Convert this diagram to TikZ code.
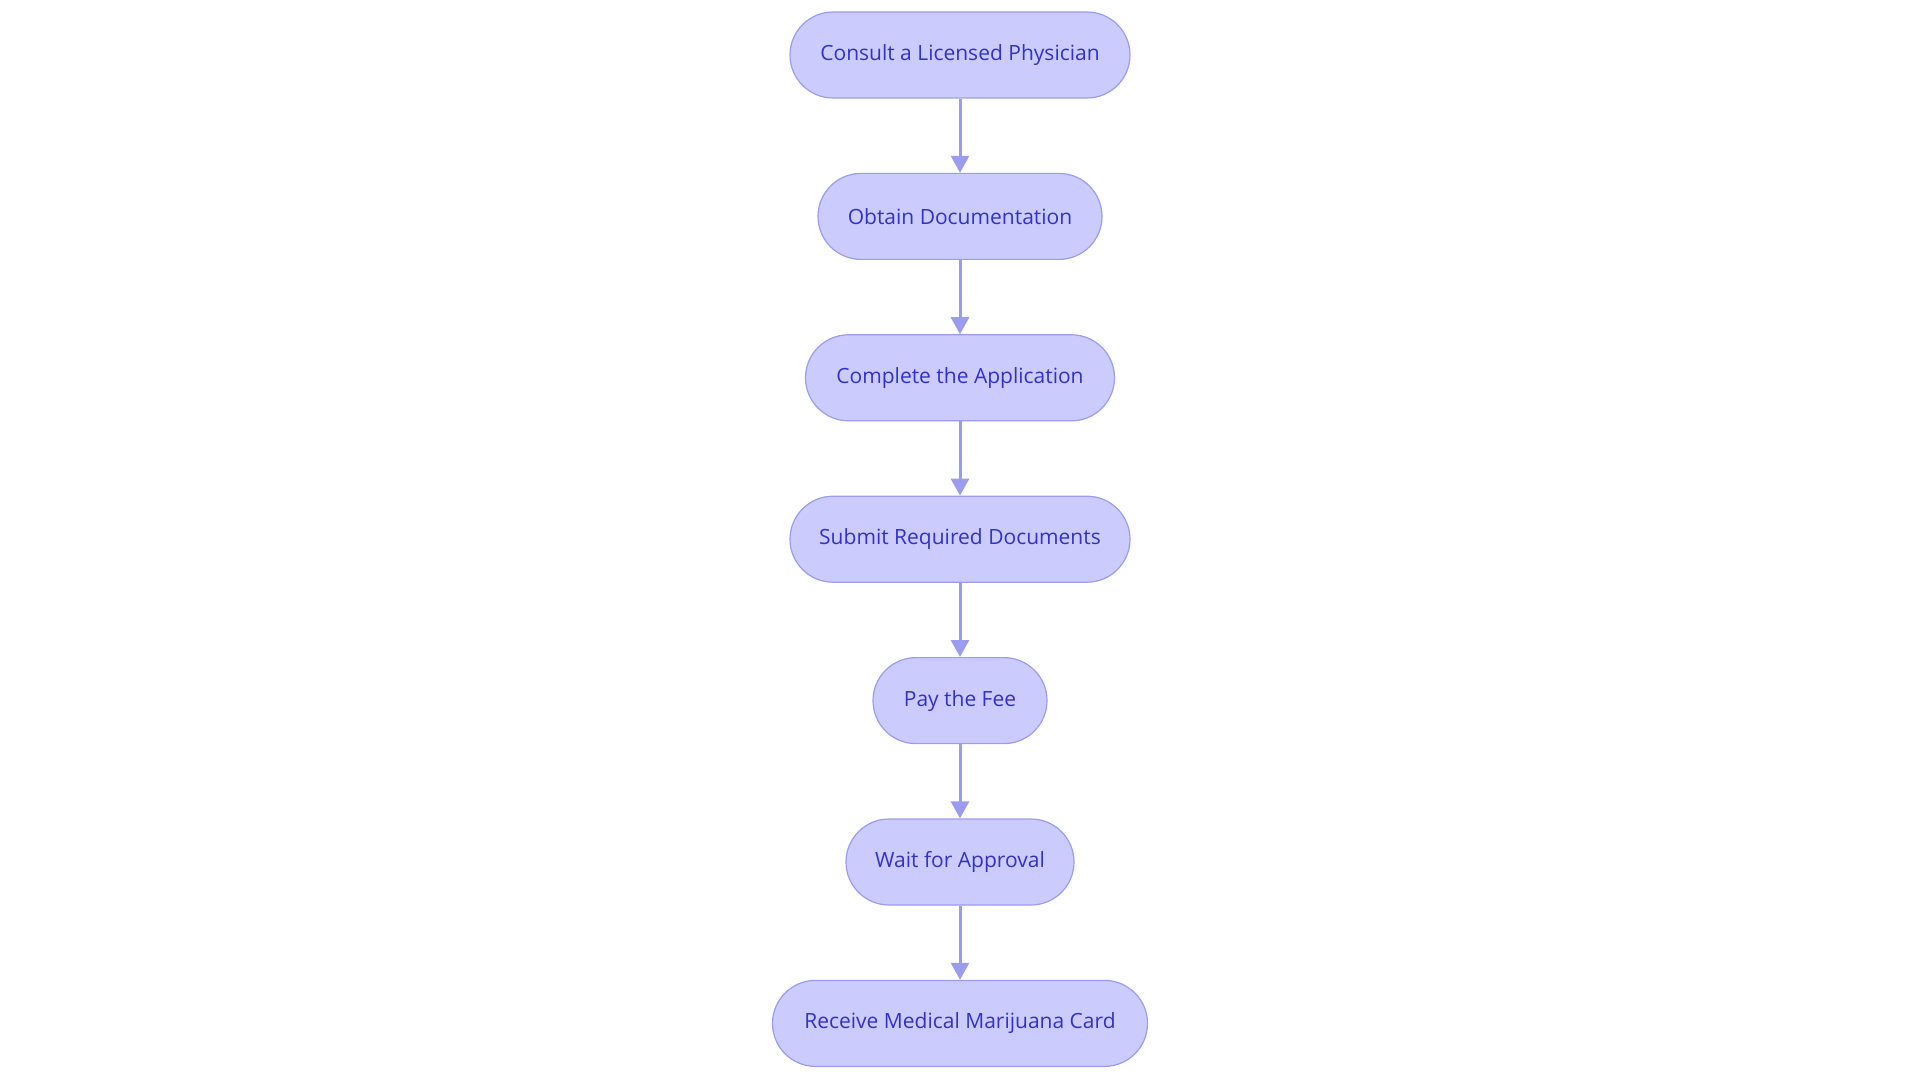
\documentclass[tikz,border=0pt]{standalone}
\usepackage{fontspec}
\setmainfont{Open Sans}
\usetikzlibrary{positioning,arrows.meta}
\definecolor{stepfill}{HTML}{CBCCFD}
\definecolor{stepline}{HTML}{9A9CF0}
\definecolor{steptext}{HTML}{3232C8}
\begin{document}
\begin{tikzpicture}[> = {Triangle[length = 17pt, width = 18pt]}, font = \fontsize{21pt}{25pt}\selectfont,
	node distance = 74.2pt,
	stage/.style = {draw = stepline, line width = 1.2pt, fill = stepfill, text = steptext,
		rounded corners = 43pt, minimum height = 86pt, inner sep = 0pt},
	link/.style = {->, draw = stepline, line width = 3pt}]

	% Canvas

	\useasboundingbox (0, 0) rectangle (1920pt, -1083pt);

	% Steps

	\node [stage, minimum width = 340pt] (consult) at (960pt, -55pt) {Consult a Licensed Physician};
	\node [stage, minimum width = 284pt, below = of consult] (docs) {Obtain Documentation};
	\node [stage, minimum width = 309pt, below = of docs] (apply) {Complete the Application};
	\node [stage, minimum width = 340pt, below = of apply] (submit) {Submit Required Documents};
	\node [stage, minimum width = 174pt, below = of submit] (fee) {Pay the Fee};
	\node [stage, minimum width = 228pt, below = of fee] (wait) {Wait for Approval};
	\node [stage, minimum width = 375pt, below = of wait] (card) {Receive Medical Marijuana Card};

	% Links

	\foreach \a/\b in {consult/docs, docs/apply, apply/submit, submit/fee, fee/wait, wait/card}
		\draw [link] (\a) -- (\b);

\end{tikzpicture}
\end{document}
